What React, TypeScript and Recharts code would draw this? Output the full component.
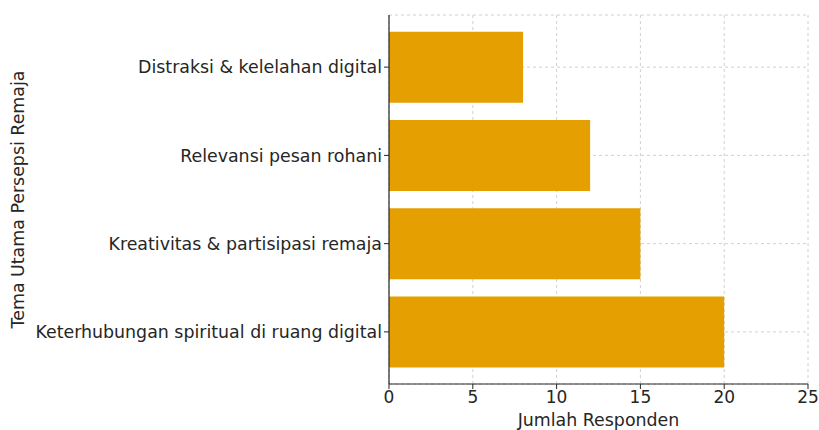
import { BarChart, Bar, XAxis, YAxis, CartesianGrid } from "recharts"

const categories = [
  "Distraksi & kelelahan digital",
  "Relevansi pesan rohani",
  "Kreativitas & partisipasi remaja",
  "Keterhubungan spiritual di ruang digital",
]
const responden = [8, 12, 15, 20]
const xTicks = [0, 5, 10, 15, 20, 25]

const data = categories.map((name, i) => ({ name, value: responden[i] }))

const FONT = "'DejaVu Sans', sans-serif"
const TEXT = "#262626"

export default function App() {
  return (
    // absolutely placed so it fills the 819x430 window without scrollbars
    <div style={{ position: "absolute", left: 0, top: 0, width: 819, height: 430, fontFamily: FONT }}>
      <BarChart
        width={819}
        height={430}
        data={data}
        layout="vertical"
        margin={{ top: 15, right: 11, bottom: 0, left: 0 }}
        barCategoryGap="10%"
      >
        <CartesianGrid stroke="#d0d0d0" strokeDasharray="3 3" />
        <XAxis
          type="number"
          domain={[0, 25]}
          ticks={xTicks}
          height={46}
          axisLine={{ stroke: TEXT, strokeWidth: 1.2 }}
          tickLine={{ stroke: TEXT }}
          tickSize={5}
          tick={{ fontSize: 17, fill: TEXT, fontFamily: FONT }}
          label={{
            value: "Jumlah Responden",
            position: "insideBottom",
            offset: 4,
            style: { fontSize: 17.4, fill: TEXT, fontFamily: FONT },
          }}
        />
        <YAxis
          type="category"
          dataKey="name"
          width={389}
          padding={{ top: 8, bottom: 8 }}
          axisLine={{ stroke: TEXT, strokeWidth: 1.2 }}
          tickLine={{ stroke: TEXT }}
          tickSize={5}
          tick={{ fontSize: 17.4, fill: TEXT, fontFamily: FONT }}
          label={{
            value: "Tema Utama Persepsi Remaja",
            angle: -90,
            position: "insideLeft",
            offset: 18,
            style: { fontSize: 17.4, fill: TEXT, fontFamily: FONT, textAnchor: "middle" },
          }}
        />
        <Bar dataKey="value" fill="#E69F00" isAnimationActive={false} />
      </BarChart>
    </div>
  )
}
